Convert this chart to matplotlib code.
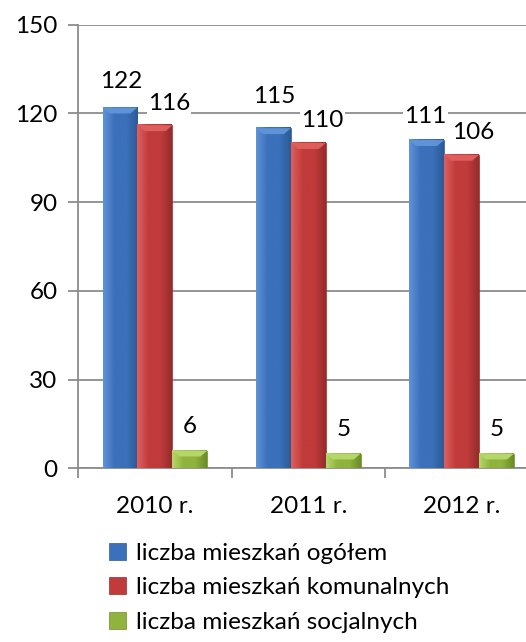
import matplotlib
matplotlib.use("Agg")
import matplotlib.pyplot as plt
import numpy as np
from matplotlib.patches import Polygon
from matplotlib.colors import LinearSegmentedColormap

years = ["2010 r.", "2011 r.", "2012 r."]
ogolem = [122, 115, 111]
komunalne = [116, 110, 106]
socjalne = [6, 5, 5]
names = ["liczba mieszkań ogółem", "liczba mieszkań komunalnych", "liczba mieszkań socjalnych"]

colors = ["#3B70BA", "#C13B3B", "#8FB33C"]
light = ["#5E93D8", "#DE5E5E", "#B5D66A"]
dark = ["#2C5A96", "#962C2C", "#6C8C28"]

# label nudges (points) - Excel moves overlapping labels
nudge_x = [[1, 1, -1], [10, 10, 8], [0, 0, 0]]
nudge_y = [[11, 15, 9.5], [8, 8.5, 8.5], [10, 10, 10]]

plt.rcParams['font.family'] = ['Lato', 'DejaVu Sans']
fs = 17.5

fig = plt.figure(figsize=(5.26, 6.42), dpi=100)
ax = fig.add_axes([78.3 / 526, 173.7 / 642, 460 / 526, 443.6 / 642])

x = np.arange(len(years))
w = 0.228
series = [ogolem, komunalne, socjalne]
handles = []
grad = np.linspace(0, 1, 64).reshape(1, -1)
for i, vals in enumerate(series):
    pos = x + (i - 1) * w
    bars = ax.bar(pos, vals, width=w, color=colors[i], edgecolor=dark[i],
                  linewidth=0.5, zorder=3, label=names[i])
    handles.append(bars)
    cmap = LinearSegmentedColormap.from_list("g%d" % i, [light[i], colors[i], colors[i], dark[i]])
    for j, b in enumerate(bars):
        x0 = b.get_x()
        x1 = x0 + b.get_width()
        top = b.get_height()
        ax.imshow(grad, cmap=cmap, aspect='auto', extent=(x0, x1, 0, top), zorder=3.5)
        bev = 0.2 * b.get_width()
        h = min(2.0, top * 0.4)
        ax.add_patch(Polygon([[x0, top], [x1, top], [x1 - bev, top - h], [x0 + bev, top - h]],
                             closed=True, facecolor=light[i], edgecolor='none', zorder=4))
        ax.annotate(f"{int(top)}", (b.get_x() + b.get_width() / 2, top),
                    xytext=(nudge_x[i][j], nudge_y[i][j]), textcoords='offset points',
                    ha='center', va='bottom', fontsize=fs, color='black', zorder=6,
                    bbox=dict(boxstyle='square,pad=0.05', facecolor='white', edgecolor='none'))

ax.set_xlim(-0.5, 2.5)
ax.set_ylim(0, 150)
ax.set_yticks(range(0, 151, 30))
ax.yaxis.grid(True, color='#8C8C8C', linewidth=1.3, zorder=0)
ax.set_axisbelow(True)
ax.set_xticks([-0.5, 0.5, 1.5, 2.5])
ax.set_xticklabels([])
ax.set_xticks(x, minor=True)
ax.set_xticklabels(years, minor=True, fontsize=fs)
ax.tick_params(axis='x', which='minor', length=0, pad=20)
ax.tick_params(axis='x', which='major', length=7, width=1.3, color='#8C8C8C', direction='out')
ax.tick_params(axis='y', length=7, width=1.3, color='#8C8C8C', labelsize=fs, pad=8)
for s in ['top', 'right']:
    ax.spines[s].set_visible(False)
for s in ['left', 'bottom']:
    ax.spines[s].set_color('#8C8C8C')
    ax.spines[s].set_linewidth(1.3)

fig.legend(handles=handles, labels=names, loc='upper left', bbox_to_anchor=(109 / 526, 1 - 543 / 642),
           frameon=False, fontsize=fs, handlelength=0.7, handleheight=0.7, handletextpad=0.4,
           labelspacing=0.55, borderaxespad=0, borderpad=0)

fig.savefig("out.png", dpi=100)
